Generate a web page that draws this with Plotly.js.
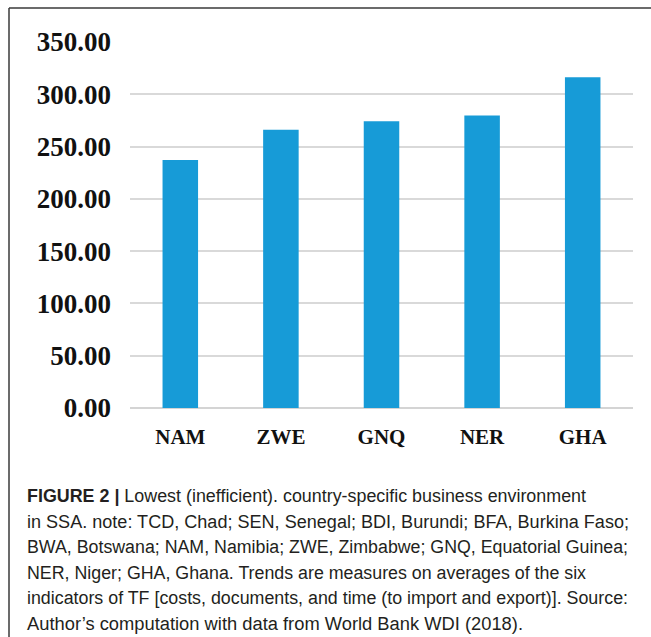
<!DOCTYPE html>
<html>
<head>
<meta charset="utf-8">
<script src="https://cdn.plot.ly/plotly-3.0.1.min.js"></script>
<style>
html,body{margin:0;padding:0;background:#fff;}
#chart{width:651px;height:637px;}
</style>
</head>
<body>
<div id="chart"></div>
<script>
const countries = ["NAM", "ZWE", "GNQ", "NER", "GHA"];
const values = [237.2, 266.2, 274.2, 279.6, 316.3];
const yTickVals = [0, 50, 100, 150, 200, 250, 300, 350];
const yTickText = ["0.00", "50.00", "100.00", "150.00", "200.00", "250.00", "300.00", "350.00"];
const captionLines = [
  "<b>FIGURE 2 |</b> Lowest (inefficient). country-specific business environment",
  "in SSA. note: TCD, Chad; SEN, Senegal; BDI, Burundi; BFA, Burkina Faso;",
  "BWA, Botswana; NAM, Namibia; ZWE, Zimbabwe; GNQ, Equatorial Guinea;",
  "NER, Niger; GHA, Ghana. Trends are measures on averages of the six",
  "indicators of TF [costs, documents, and time (to import and export)]. Source:",
  "Author\u2019s computation with data from World Bank WDI (2018)."
];
// right edge (px) of each caption line in the reference, used to fit the condensed face
const captionRightEdges = [584, 627, 626, 584, 626, 521];

const W = 651, H = 637;
const M = {l: 130, r: 18, t: 42, b: 229};
const pw = W - M.l - M.r, ph = H - M.t - M.b;
const px = x => (x - M.l) / pw;
const py = y => (H - M.b - y) / ph;
const capLeft = 25;

const capFont = "'Liberation Sans', Arial, sans-serif";
const annotations = captionLines.map((t, i) => ({
  text: t, xref: 'paper', yref: 'paper', x: px(capLeft), y: py(496 + i * 25.6),
  xanchor: 'left', yanchor: 'middle', showarrow: false, align: 'left',
  font: {family: capFont, size: 18, color: '#231f20'}
}));

const shapes = [
  {type: 'line', xref: 'paper', yref: 'paper', x0: px(9), x1: px(651), y0: py(8), y1: py(8), line: {color: '#3a3a3a', width: 1.5}},
  {type: 'line', xref: 'paper', yref: 'paper', x0: px(9), x1: px(9), y0: py(8), y1: py(637), line: {color: '#3a3a3a', width: 1.5}}
];

const trace = {
  type: 'bar', x: countries, y: values,
  marker: {color: '#179bd7', line: {width: 0}},
  hoverinfo: 'x+y'
};

const layout = {
  width: W, height: H, margin: M,
  paper_bgcolor: '#fff', plot_bgcolor: '#fff',
  showlegend: false, bargap: 0.647,
  font: {family: "'Liberation Serif', 'Times New Roman', serif", color: '#111'},
  xaxis: {
    showgrid: false, showline: false, zeroline: false, ticks: '',
    tickfont: {family: "'Liberation Serif', 'Times New Roman', serif", size: 21, weight: 'bold', color: '#111'},
    ticklabelstandoff: 14
  },
  yaxis: {
    range: [0, 350], tickvals: yTickVals, ticktext: yTickText,
    showgrid: true, gridcolor: '#d9d9d9', gridwidth: 2,
    zeroline: true, zerolinecolor: '#d4d4d4', zerolinewidth: 2,
    showline: false, ticks: '',
    tickfont: {family: "'Liberation Serif', 'Times New Roman', serif", size: 27, weight: 'bold', color: '#111'},
    ticklabelstandoff: 18
  },
  annotations: annotations,
  shapes: shapes
};

Plotly.newPlot('chart', [trace], layout, {displayModeBar: false, staticPlot: true}).then(gd => {
  // emulate the condensed caption face by fitting each line to its measured width
  const texts = gd.querySelectorAll('.annotation-text');
  texts.forEach((el, i) => {
    if (i >= captionRightEdges.length) return;
    el.setAttribute('textLength', captionRightEdges[i] - capLeft);
    el.setAttribute('lengthAdjust', 'spacingAndGlyphs');
  });
});
</script>
</body>
</html>
